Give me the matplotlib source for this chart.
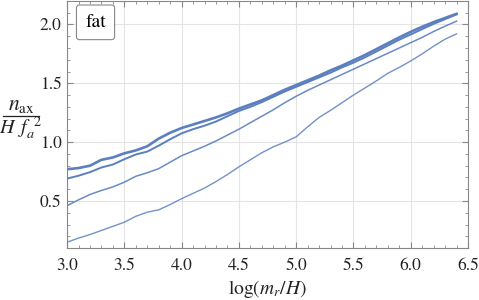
import matplotlib
matplotlib.use("Agg")
import matplotlib.pyplot as plt
from matplotlib.lines import Line2D
from matplotlib.ticker import MultipleLocator

# Data
x = [3.0, 3.1, 3.2, 3.3, 3.4, 3.5, 3.6, 3.7, 3.8, 3.9, 4.0, 4.1, 4.2, 4.3, 4.4, 4.5, 4.6, 4.7,
     4.8, 4.9, 5.0, 5.1, 5.2, 5.3, 5.4, 5.5, 5.6, 5.7, 5.8, 5.9, 6.0, 6.1, 6.2, 6.3, 6.4]
curve_a = [0.77, 0.78, 0.80, 0.85, 0.87, 0.905, 0.93, 0.965, 1.03, 1.08, 1.12, 1.15, 1.18, 1.21,
           1.245, 1.285, 1.32, 1.355, 1.40, 1.445, 1.485, 1.525, 1.565, 1.61, 1.65, 1.695, 1.74,
           1.79, 1.84, 1.89, 1.937, 1.98, 2.02, 2.055, 2.09]
curve_b = [0.69, 0.715, 0.745, 0.785, 0.81, 0.855, 0.895, 0.92, 0.97, 1.025, 1.075, 1.11, 1.14,
           1.175, 1.22, 1.265, 1.30, 1.34, 1.385, 1.43, 1.47, 1.51, 1.55, 1.59, 1.635, 1.675, 1.72,
           1.77, 1.82, 1.87, 1.915, 1.96, 2.005, 2.045, 2.085]
curve_c = [0.46, 0.51, 0.555, 0.59, 0.62, 0.66, 0.71, 0.74, 0.775, 0.83, 0.885, 0.925, 0.965,
           1.01, 1.06, 1.11, 1.165, 1.22, 1.275, 1.335, 1.39, 1.44, 1.485, 1.53, 1.575, 1.62,
           1.665, 1.71, 1.755, 1.80, 1.845, 1.89, 1.94, 1.985, 2.028]
curve_d = [0.15, 0.185, 0.215, 0.25, 0.285, 0.32, 0.37, 0.405, 0.425, 0.47, 0.52, 0.565, 0.61,
           0.665, 0.725, 0.79, 0.85, 0.91, 0.96, 1.0, 1.045, 1.13, 1.21, 1.27, 1.335, 1.40, 1.46,
           1.52, 1.585, 1.635, 1.69, 1.75, 1.815, 1.875, 1.92]

plt.rcParams['font.family'] = 'STIXGeneral'
plt.rcParams['mathtext.fontset'] = 'stix'

fig = plt.figure(figsize=(4.79, 3.0), dpi=100)
ax = fig.add_axes([0.140, 0.173, 0.837, 0.824])

col = '#5b7fbf'
ax.plot(x, curve_a, color=col, lw=1.9)
ax.plot(x, curve_b, color=col, lw=1.4)
ax.plot(x, curve_c, color=col, lw=1.1, alpha=0.9)
ax.plot(x, curve_d, color=col, lw=1.0, alpha=0.85)

ax.set_xlim(3.0, 6.5)
ax.set_ylim(0.1, 2.2)
ax.xaxis.set_major_locator(MultipleLocator(0.5))
ax.xaxis.set_minor_locator(MultipleLocator(0.1))
ax.yaxis.set_major_locator(MultipleLocator(0.5))
ax.yaxis.set_minor_locator(MultipleLocator(0.1))
ax.tick_params(which='both', direction='in', top=True, right=True, color='#888888',
               labelsize=12.5, labelcolor='#222222')
ax.tick_params(which='major', length=4)
ax.tick_params(which='minor', length=2)
ax.tick_params(axis='x', pad=7)
ax.tick_params(axis='y', pad=4)
for s in ax.spines.values():
    s.set_color('#888888')
ax.grid(True, color='#e4e4e4', lw=0.8)

ax.set_xlabel(r'$\log(m_r/H)$', fontsize=14, color='#222222', labelpad=3)

# y label drawn as a stacked fraction
W, Hh = 479.0, 300.0
fig.text(21 / W, 1 - 105 / Hh, r'$n_{\rm ax}$', fontsize=15.5, ha='center', va='center',
         color='#222222')
fig.text(21 / W, 1 - 128 / Hh, r'$H\ \,f_{a}^{\ \,2}$', fontsize=14.5, ha='center', va='center',
         color='#222222')
fig.add_artist(Line2D([3 / W, 39 / W], [1 - 116 / Hh, 1 - 116 / Hh], color='#222222', lw=0.9))

ax.text(0.071, 0.948, 'fat', transform=ax.transAxes, fontsize=14, va='top', ha='center',
        bbox=dict(boxstyle='round,pad=0.45,rounding_size=0.15', fc='white', ec='#888888', lw=0.8))

fig.savefig('out.png', dpi=100)
